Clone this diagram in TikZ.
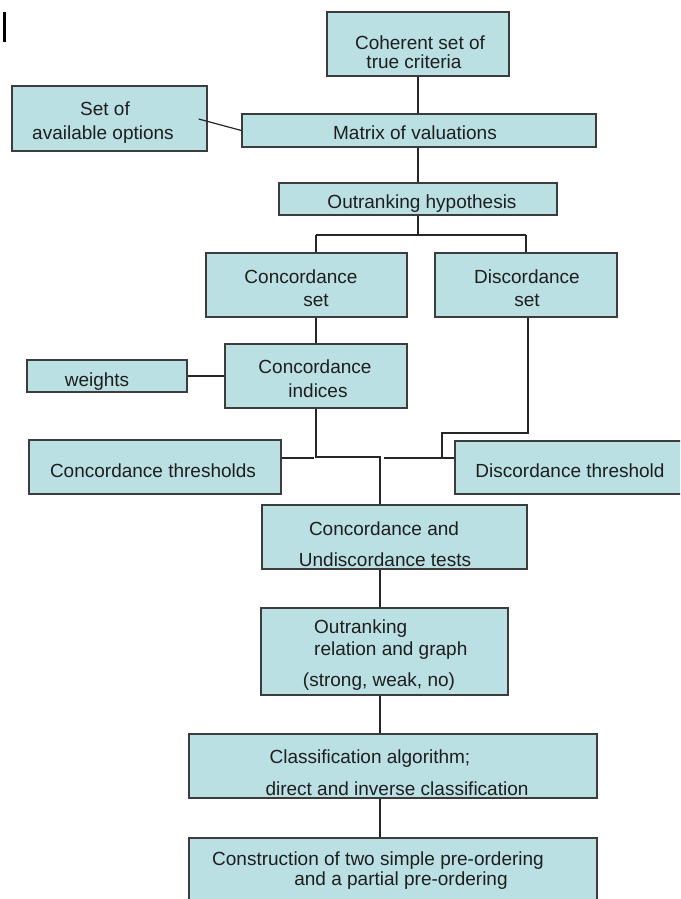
\documentclass[tikz,border=0pt]{standalone}
\usepackage{fontspec}
\setmainfont{Liberation Sans}
\definecolor{boxfill}{RGB}{187,224,227}
\definecolor{boxline}{RGB}{60,60,60}
\definecolor{txt}{RGB}{30,30,30}
\tikzset{
  box/.style={draw=boxline, fill=boxfill, line width=1.3pt, inner sep=0pt, rectangle},
  lbl/.style={anchor=base, inner sep=0pt, text=txt, font=\fontsize{19}{22}\selectfont},
  lblw/.style={anchor=base west, inner sep=0pt, text=txt, font=\fontsize{19}{22}\selectfont},
  conn/.style={draw=black!85, line width=1.4pt},
}
\begin{document}
\begin{tikzpicture}[x=1pt,y=-1pt]
\useasboundingbox (0,0) rectangle (680,899);
\clip (0,0) rectangle (680,899);
% stray mark
\draw[line width=2.5pt] (4.5,12) -- (4.5,42);
% boxes
\node[box, minimum width=182pt, minimum height=64pt] (coh) at (418,44) {};
\node[box, minimum width=195pt, minimum height=65pt] (opts) at (109.5,118.5) {};
\node[box, minimum width=354pt, minimum height=33pt] (mat) at (419,130.5) {};
\node[box, minimum width=278pt, minimum height=32pt] (hyp) at (418,199) {};
\node[box, minimum width=201pt, minimum height=64pt] (cset) at (306.5,285) {};
\node[box, minimum width=182pt, minimum height=64pt] (dset) at (526,285) {};
\node[box, minimum width=182pt, minimum height=64pt] (cidx) at (316,376) {};
\node[box, minimum width=160pt, minimum height=32pt] (wts) at (107,376) {};
\node[box, minimum width=252pt, minimum height=54pt] (cthr) at (155,467) {};
\node[box, minimum width=227pt, minimum height=53pt] (dthr) at (568.5,467.5) {};
\node[box, minimum width=265pt, minimum height=64pt] (tests) at (394.5,537) {};
\node[box, minimum width=247pt, minimum height=87pt] (rel) at (384.5,651.5) {};
\node[box, minimum width=408pt, minimum height=64pt] (cls) at (393,766) {};
\node[box, minimum width=408pt, minimum height=67pt] (cons) at (393,871.5) {};
% texts
\node[lbl] (t1) at (420,50) {Coherent set of};
\node[lbl] (t2) at (414,69) {true criteria};
\node[lbl] (t3) at (105,115) {Set of};
\node[lbl] (t4) at (103,139) {available options};
\node[lbl] (t5) at (415,139) {Matrix of valuations};
\node[lbl] (t6) at (422,208) {Outranking hypothesis};
\node[lbl] (t7) at (301,283) {Concordance};
\node[lbl] (t8) at (316,306) {set};
\node[lbl] (t9) at (527,283) {Discordance};
\node[lbl] (t10) at (527,306) {set};
\node[lbl] (t11) at (315,373) {Concordance};
\node[lbl] (t12) at (318,397) {indices};
\node[lbl] (t13) at (97,386) {weights};
\node[lbl] (t14) at (153,477) {Concordance thresholds};
\node[lbl] (t15) at (570,477) {Discordance threshold};
\node[lbl] (t16) at (384,535) {Concordance and};
\node[lbl] (t17) at (385,566) {Undiscordance tests};
\node[lblw] (t18) at (314,633) {Outranking};
\node[lblw] (t19) at (314,655) {relation and graph};
\node[lbl] (t20) at (379,686) {(strong, weak, no)};
\node[lbl] (t21) at (370,763) {Classification algorithm;};
\node[lbl] (t22) at (397,795) {direct and inverse classification};
\node[lbl] (t23) at (378,865) {Construction of two simple pre-ordering};
\node[lbl] (t24) at (401,885) {and a partial pre-ordering};
% junction coordinates
\coordinate (j1) at (418,235);
\coordinate (jl) at (316,235);
\coordinate (jr) at (526,235);
\coordinate (k1) at (316,457);
\coordinate (k2) at (380,457);
\coordinate (cend) at (314,458);
\coordinate (dend) at (384,458);
\coordinate (d1) at (528,433);
\coordinate (d2) at (442,433);
\coordinate (d3) at (442,458);
% connectors
\draw[conn] (coh.south) -- (coh.south |- mat.north);
\draw[conn, line width=1.2pt] ([xshift=-9pt,yshift=-0.5pt]opts.east) -- (mat.west);
\draw[conn] (mat.south -| hyp.north) -- (hyp.north);
\draw[conn] (hyp.south) -- (j1);
\draw[conn] (jl) -- (jr);
\draw[conn] (jl) -- (jl |- cset.north);
\draw[conn] (jr) -- (dset.north);
\draw[conn] (cidx.north |- cset.south) -- (cidx.north);
\draw[conn, line width=2.6pt] (wts.east) -- (cidx.west);
\draw[conn] (cidx.south) -- (k1) -- (k2) -- (k2 |- tests.north);
\draw[conn] (cthr.east |- cend) -- (cend);
\draw[conn] (dthr.west |- dend) -- (dend);
\draw[conn] (d1 |- dset.south) -- (d1) -- (d2) -- (d3);
\draw[conn] (k2 |- tests.south) -- (k2 |- rel.north);
\draw[conn] (k2 |- rel.south) -- (k2 |- cls.north);
\draw[conn] (k2 |- cls.south) -- (k2 |- cons.north);
\end{tikzpicture}
\end{document}
